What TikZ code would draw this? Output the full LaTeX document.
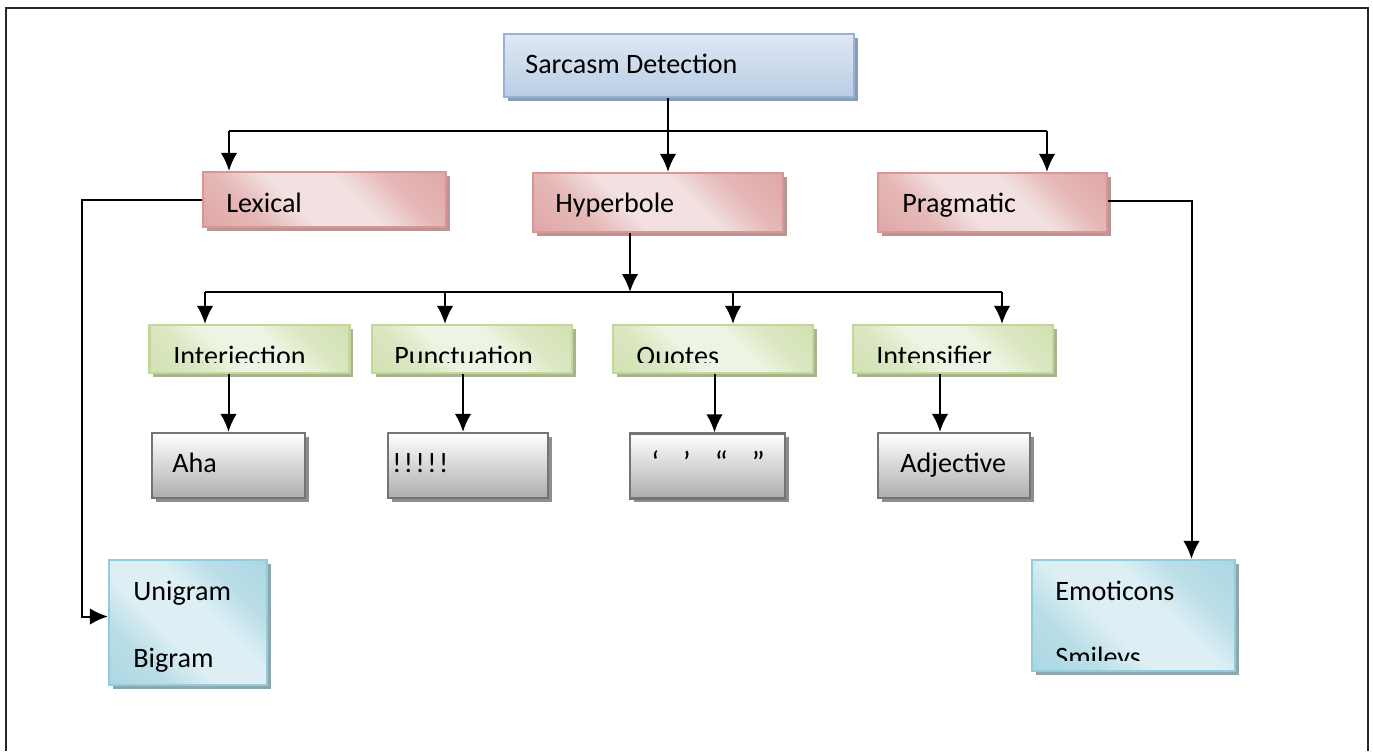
\documentclass[tikz,border=0pt]{standalone}
\usepackage{fontspec}
\setmainfont{Carlito}
\usepackage{tikz}
\usetikzlibrary{arrows.meta,calc,shadows}
\definecolor{bluedge}{HTML}{95B3D7}
\definecolor{bluetop}{HTML}{DFE8F4}
\definecolor{bluebot}{HTML}{B9CDE5}
\definecolor{blueshade}{HTML}{8A9DB6}
\definecolor{rededge}{HTML}{D99694}
\definecolor{reddark}{HTML}{D99795}
\definecolor{redlight}{HTML}{F3E1E1}
\definecolor{redshade}{HTML}{B99595}
\definecolor{grnedge}{HTML}{C3D69B}
\definecolor{grndark}{HTML}{CADCA6}
\definecolor{grnlight}{HTML}{EEF4E3}
\definecolor{grnshade}{HTML}{A7B58E}
\definecolor{grayedge}{HTML}{747474}
\definecolor{graybot}{HTML}{ADADAD}
\definecolor{grayshade}{HTML}{8E8E8E}
\definecolor{cyanedge}{HTML}{93CDDD}
\definecolor{cyandark}{HTML}{9DD0DE}
\definecolor{cyanlight}{HTML}{DDEFF4}
\definecolor{cyanshade}{HTML}{8EA6AD}
% diagonal fades: dark corners, wide light band across the middle
\pgfdeclarehorizontalshading{redfade}{100bp}{color(0bp)=(reddark);color(30bp)=(reddark!55!redlight);color(42bp)=(redlight);color(58bp)=(redlight);color(70bp)=(reddark!55!redlight);color(100bp)=(reddark)}
\pgfdeclarehorizontalshading{grnfade}{100bp}{color(0bp)=(grndark);color(30bp)=(grndark!55!grnlight);color(42bp)=(grnlight);color(58bp)=(grnlight);color(70bp)=(grndark!55!grnlight);color(100bp)=(grndark)}
\pgfdeclarehorizontalshading{cyanfade}{100bp}{color(0bp)=(cyandark);color(30bp)=(cyandark!55!cyanlight);color(42bp)=(cyanlight);color(58bp)=(cyanlight);color(70bp)=(cyandark!55!cyanlight);color(100bp)=(cyandark)}

\begin{document}
\begin{tikzpicture}[x=0.2mm,y=-0.2mm,>={Latex[length=3.6mm,width=3.3mm]},
lbl/.style={anchor=base west,inner sep=0pt,font=\fontsize{16}{19}\selectfont},
box/.style={draw,line width=0.45mm,inner sep=0pt},
topbox/.style={box,draw=bluedge,top color=bluetop,bottom color=bluebot,
  drop shadow={shadow xshift=0.7mm,shadow yshift=-0.7mm,fill=blueshade,opacity=1}},
redbox/.style={box,draw=rededge,shading=redfade,shading angle=45,minimum height=11.8mm,
  drop shadow={shadow xshift=0.7mm,shadow yshift=-0.7mm,fill=redshade,opacity=1}},
grnbox/.style={box,draw=grnedge,shading=grnfade,shading angle=45,minimum width=40mm,minimum height=9.6mm,
  drop shadow={shadow xshift=0.7mm,shadow yshift=-0.7mm,fill=grnshade,opacity=1}},
graybox/.style={box,draw=grayedge,top color=white,bottom color=graybot,minimum height=13mm,
  drop shadow={shadow xshift=0.7mm,shadow yshift=-0.7mm,fill=grayshade,opacity=1}},
cyanbox/.style={box,draw=cyanedge,shading=cyanfade,shading angle=45,
  drop shadow={shadow xshift=0.7mm,shadow yshift=-0.7mm,fill=cyanshade,opacity=1}},
link/.style={line width=0.4mm}]
\useasboundingbox (0,0) rectangle (1373,751);

% page frame
\draw[line width=0.5mm,black!85] (6,751) -- (6,8) -- (1368,8) -- (1368,751);

% root
\node[topbox,minimum width=70mm,minimum height=12.6mm] (sarc) at (679,65.5) {};
\node[lbl] (sarct) at (525,73) {Sarcasm Detection};

% first level
\node[redbox,minimum width=48.6mm,minimum height=11mm] (lex) at (324.5,199.5) {};
\node[lbl] (lext) at (226,212) {Lexical};
\node[redbox,minimum width=50mm] (hyp) at (658,202.5) {};
\node[lbl] (hypt) at (555,212) {Hyperbole};
\node[redbox,minimum width=45.8mm] (prag) at (992.5,202.5) {};
\node[lbl] (pragt) at (902,212) {Pragmatic};

% hyperbole cues
\node[grnbox] (interj) at (249.5,349) {};
\node[grnbox] (punct) at (472,349) {};
\node[grnbox] (quot) at (713,349) {};
\node[grnbox] (intens) at (953,349) {};
\begin{scope}
\clip (140,320) rectangle (1060,362);
\node[lbl] (interjt) at (173,365) {Interjection};
\node[lbl] (punctt) at (394,365) {Punctuation};
\node[lbl] (quott) at (636,365) {Quotes};
\node[lbl] (intenst) at (876,365) {Intensifier};
\end{scope}

% examples
\node[graybox,minimum width=30.6mm] (aha) at (228.5,465.5) {};
\node[lbl] (ahat) at (172,472) {Aha};
\node[graybox,minimum width=32mm] (excl) at (468,465.5) {};
\node[lbl] (exclt) at (392,472) {!\kern.5mm!\kern.5mm!\kern.5mm!\kern.5mm!};
\node[graybox,minimum width=31mm] (marks) at (707.5,466) {};
\node[lbl,font=\fontsize{18}{20}\selectfont] (markst) at (651,473) {‘\hspace{0.75em}’\hspace{0.75em}“\hspace{0.75em}”};
\node[graybox,minimum width=30.4mm] (adj) at (954,465.5) {};
\node[lbl] (adjt) at (900,472) {Adjective};

% lexical and pragmatic features
\node[cyanbox,minimum width=31.6mm,minimum height=25mm] (ngram) at (188,622.5) {};
\node[lbl] (unit) at (133,600) {Unigram};
\node[lbl] (bit) at (133,667) {Bigram};
\node[cyanbox,minimum width=40.6mm,minimum height=22.2mm] (emo) at (1133.5,615.5) {};
\node[lbl] (emot) at (1055,600) {Emoticons};
\begin{scope}
\clip (1040,640) rectangle (1230,660);
\node[lbl] (smilt) at (1055,666) {Smileys};
\end{scope}

% connectors
\coordinate (hub) at (668,131);
\coordinate (l1) at (229,131);
\coordinate (r1) at (1047,131);
\coordinate (sub) at (630,292);
\coordinate (g1) at (205,292);
\coordinate (g2) at (445,292);
\coordinate (g3) at (733,292);
\coordinate (g4) at (1002,292);
\draw[link] (l1) -- (r1);
\draw[link,->] (l1) -- (l1 |- lex.north);
\draw[link,->] (r1) -- (r1 |- prag.north);
\draw[link,->] (sarc.south -| hub) -- (hyp.north -| hub);
\draw[link,->] (hyp.south -| sub) -- (sub);
\draw[link] (g1) -- (g4);
\draw[link,->] (g1) -- (g1 |- interj.north);
\draw[link,->] (g2) -- (g2 |- punct.north);
\draw[link,->] (g3) -- (g3 |- quot.north);
\draw[link,->] (g4) -- (g4 |- intens.north);
\draw[link,->] (interj.south -| aha.north) -- (aha.north);
\draw[link,->] ($(punct.south -| excl.north)+(-5,0)$) -- ($(excl.north)+(-5,0)$);
\draw[link,->] ($(quot.south -| marks.north)+(7,0)$) -- ($(marks.north)+(7,0)$);
\draw[link,->] ($(intens.south -| adj.north)+(-14,0)$) -- ($(adj.north)+(-14,0)$);
\draw[link,->] (lex.west) -- (82,199.5) |- ($(ngram.west)+(0,-6)$);
\draw[link,->] ($(prag.east)+(0,-2)$) -| ($(emo.north)+(58,0)$);
\end{tikzpicture}
\end{document}
